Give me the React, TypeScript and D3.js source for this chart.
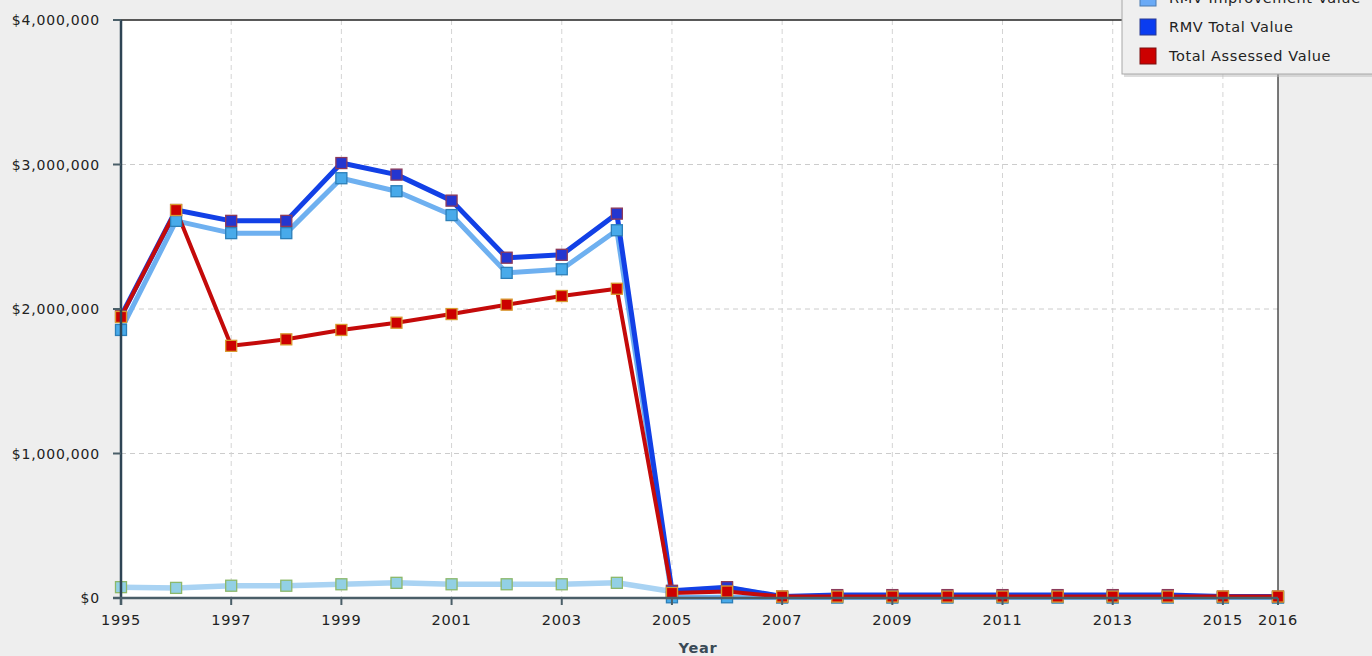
import React from "react";
import * as d3 from "d3";

const years = [1995,1996,1997,1998,1999,2000,2001,2002,2003,2004,2005,2006,2007,2008,2009,2010,2011,2012,2013,2014,2015,2016];
const landValue = [75000,70000,85000,85000,95000,105000,95000,95000,95000,105000,45000,70000,8000,8000,8000,8000,8000,8000,8000,8000,5000,5000];
const improvementValue = [1855000,2610000,2525000,2525000,2905000,2815000,2650000,2250000,2275000,2545000,5000,5000,3000,3000,3000,3000,3000,3000,3000,3000,3000,3000];
const totalValue = [1950000,2685000,2610000,2610000,3010000,2930000,2750000,2355000,2375000,2660000,50000,75000,10000,20000,20000,20000,20000,20000,20000,20000,10000,10000];
const assessedValue = [1945000,2685000,1745000,1790000,1855000,1905000,1965000,2030000,2090000,2140000,35000,45000,10000,10000,10000,10000,10000,10000,10000,10000,10000,10000];
const xTickYears = [1995,1997,1999,2001,2003,2005,2007,2009,2011,2013,2015,2016];
const yTicks = [0,1000000,2000000,3000000,4000000];
const legendNames = ["RMV Improvement Value","RMV Total Value","Total Assessed Value"];

const W = 1372, H = 656;
const L = 121, R = 1278, T = 20, B = 598;

export default function App() {
  const x = d3.scaleLinear().domain([1995, 2016]).range([L, R]);
  const y = d3.scaleLinear().domain([0, 4000000]).range([B, T]);
  const line = d3.line<number>().x((_, i) => x(years[i])).y(d => y(d));
  const fmt = (v: number) => "$" + d3.format(",")(v);

  const series = [
    { data: landValue, stroke: "#a9d3f3", width: 5.5, fill: "#92d0e4", mstroke: "#8cb86a" },
    { data: improvementValue, stroke: "#6eb0f0", width: 5, fill: "#48aaea", mstroke: "#2c7fb8" },
    { data: totalValue, stroke: "#1240e6", width: 5, fill: "#2436d0", mstroke: "#8c3a5a" },
    { data: assessedValue, stroke: "#c40a0a", width: 4, fill: "#cc0000", mstroke: "#d89a30" },
  ];
  const legendSw = [
    { fill: "#6aaaf6", stroke: "#4a7ab0" },
    { fill: "#0a3cf0", stroke: "#2a3a90" },
    { fill: "#cc0000", stroke: "#7a1010" },
  ];
  const font = "'DejaVu Sans', sans-serif";
  const ms = 11;

  return (
    <svg width={W} height={H} style={{ position: "absolute", left: 0, top: 0, display: "block" }}>
      <rect x={0} y={0} width={W} height={H} fill="#eeeeee" />
      <rect x={L} y={T} width={R - L} height={B - T} fill="#ffffff" />
      {yTicks.filter(v => v > 0 && v < 4000000).map(v => (
        <line key={"gy" + v} x1={L} x2={R} y1={y(v)} y2={y(v)} stroke="#cccccc" strokeDasharray="5,4" strokeWidth={1} />
      ))}
      {xTickYears.filter(v => v > 1995 && v < 2016).map(v => (
        <line key={"gx" + v} x1={x(v)} x2={x(v)} y1={T} y2={B} stroke="#d4d4d4" strokeDasharray="5,4" strokeWidth={1} />
      ))}
      <line x1={L} x2={R} y1={T} y2={T} stroke="#222" strokeWidth={1.5} />
      <line x1={R} x2={R} y1={T} y2={B} stroke="#222" strokeWidth={1.2} />
      {series.map((s, k) => (
        <path key={"l" + k} d={line(s.data) || ""} fill="none" stroke={s.stroke} strokeWidth={s.width} strokeLinejoin="round" />
      ))}
      {series.map((s, k) => (
        <g key={"m" + k}>
          {s.data.map((d, i) => (
            <rect key={i} x={x(years[i]) - ms / 2} y={y(d) - ms / 2} width={ms} height={ms} fill={s.fill} stroke={s.mstroke} strokeWidth={1.3} />
          ))}
        </g>
      ))}
      <line x1={L} x2={L} y1={T} y2={B + 7} stroke="#2e4454" strokeWidth={2.5} />
      <line x1={L - 8} x2={R} y1={B} y2={B} stroke="#4a5e68" strokeWidth={2.5} />
      {yTicks.map(v => (
        <g key={"yt" + v}>
          <line x1={L - 8} x2={L} y1={y(v)} y2={y(v)} stroke="#4a5e68" strokeWidth={2} />
          <text x={L - 21} y={y(v) + 5} textAnchor="end" fontFamily={font} fontSize={14} letterSpacing={0.8} fill="#222">{fmt(v)}</text>
        </g>
      ))}
      {xTickYears.map(v => (
        <g key={"xt" + v}>
          <line x1={x(v)} x2={x(v)} y1={B} y2={B + 7} stroke="#4a5e68" strokeWidth={2} />
          <text x={x(v)} y={B + 27} textAnchor="middle" fontFamily={font} fontSize={14.5} letterSpacing={0.8} fill="#222">{v}</text>
        </g>
      ))}
      <text x={698} y={653} textAnchor="middle" fontFamily={font} fontSize={14.5} fontWeight="bold" letterSpacing={0.8} fill="#3a4a56">Year</text>
      <g>
        <rect x={1124} y={-10} width={252} height={87} fill="#bbbbbb" opacity={0.5} />
        <rect x={1122} y={-12} width={252} height={86} fill="#efefef" stroke="#a8a8a8" strokeWidth={1} />
        {legendNames.map((n, i) => (
          <g key={n}>
            <rect x={1140} y={-10 + i * 29} width={16} height={16} fill={legendSw[i].fill} stroke={legendSw[i].stroke} strokeWidth={1} />
            <text x={1169} y={3 + i * 29} fontFamily={font} fontSize={14.5} letterSpacing={0.6} fill="#222">{n}</text>
          </g>
        ))}
      </g>
    </svg>
  );
}
